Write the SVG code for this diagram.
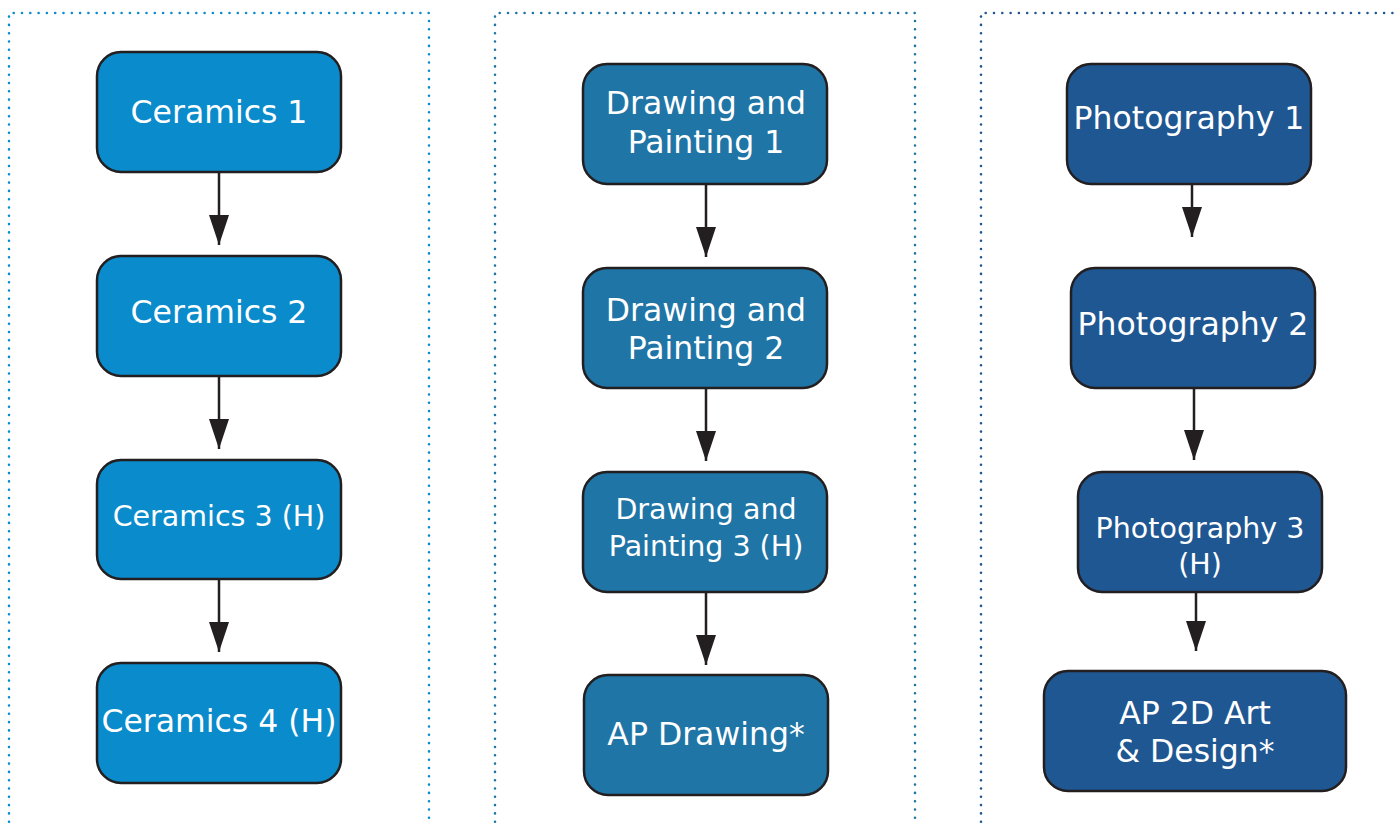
<svg xmlns="http://www.w3.org/2000/svg" width="1394" height="824" viewBox="0 0 1394 824">
<defs>
<marker id="ah" viewBox="0 0 30 20" refX="30" refY="10" markerWidth="30" markerHeight="20" markerUnits="userSpaceOnUse" orient="auto">
<path d="M0,0 L30,10 L0,20 Z" fill="#231f20"/>
</marker>
</defs>
<style>
.frame{fill:none;stroke-width:2.6;stroke-dasharray:0 8.3;stroke-linecap:round}
.box{stroke:#231f20;stroke-width:2.5}
.c{fill:#0a8bcb}.d{fill:#1f75a6}.p{fill:#1f5792}
text{font-family:"DejaVu Sans","Open Sans",sans-serif;fill:#fff;text-anchor:middle;font-size:31.5px}
.sm{font-size:28.5px}
.conn line{stroke:#231f20;stroke-width:2.5}
</style>
<rect width="1394" height="824" fill="#fff"/>
<path class="frame" d="M9,830 V13 H429 V830" stroke="#0a8bcb"/>
<path class="frame" d="M495,830 V13 H915 V830" stroke="#1f75a6"/>
<path class="frame" d="M981,830 V13 H1400" stroke="#1f5792"/>
<g class="conn">
<line x1="219" y1="172" x2="219" y2="245" marker-end="url(#ah)"/>
<line x1="219" y1="376" x2="219" y2="449" marker-end="url(#ah)"/>
<line x1="219" y1="579" x2="219" y2="652" marker-end="url(#ah)"/>
<line x1="706" y1="184" x2="706" y2="257" marker-end="url(#ah)"/>
<line x1="706" y1="388" x2="706" y2="461" marker-end="url(#ah)"/>
<line x1="706" y1="592" x2="706" y2="665" marker-end="url(#ah)"/>
<line x1="1192" y1="184" x2="1192" y2="237" marker-end="url(#ah)"/>
<line x1="1194" y1="388" x2="1194" y2="460" marker-end="url(#ah)"/>
<line x1="1196" y1="592" x2="1196" y2="651" marker-end="url(#ah)"/>
</g>
<g id="ceramics1"><rect class="box c" x="97" y="52" width="244" height="120" rx="24"/><text x="219" y="123">Ceramics 1</text></g>
<g id="ceramics2"><rect class="box c" x="97" y="256" width="244" height="120" rx="24"/><text x="219" y="323">Ceramics 2</text></g>
<g id="ceramics3"><rect class="box c" x="97" y="460" width="244" height="119" rx="24"/><text class="sm" x="219" y="526">Ceramics 3 (H)</text></g>
<g id="ceramics4"><rect class="box c" x="97" y="663" width="244" height="120" rx="24"/><text x="219" y="732">Ceramics 4 (H)</text></g>
<g id="drawing1"><rect class="box d" x="583" y="64" width="244" height="120" rx="24"/><text x="706" y="114">Drawing and</text><text x="706" y="153">Painting 1</text></g>
<g id="drawing2"><rect class="box d" x="583" y="268" width="244" height="120" rx="24"/><text x="706" y="321">Drawing and</text><text x="706" y="359">Painting 2</text></g>
<g id="drawing3"><rect class="box d" x="583" y="472" width="244" height="120" rx="24"/><text class="sm" x="706" y="519">Drawing and</text><text class="sm" x="706" y="556">Painting 3 (H)</text></g>
<g id="apdrawing"><rect class="box d" x="584" y="675" width="244" height="120" rx="24"/><text x="706" y="745">AP Drawing*</text></g>
<g id="photo1"><rect class="box p" x="1067" y="64" width="244" height="120" rx="24"/><text x="1189" y="129">Photography 1</text></g>
<g id="photo2"><rect class="box p" x="1071" y="268" width="244" height="120" rx="24"/><text x="1193" y="335">Photography 2</text></g>
<g id="photo3"><rect class="box p" x="1078" y="472" width="244" height="120" rx="24"/><text class="sm" x="1200" y="538">Photography 3</text><text class="sm" x="1200" y="574">(H)</text></g>
<g id="ap2d"><rect class="box p" x="1044" y="671" width="302" height="120" rx="24"/><text x="1195" y="724">AP 2D Art</text><text x="1195" y="762">&amp; Design*</text></g>
</svg>
